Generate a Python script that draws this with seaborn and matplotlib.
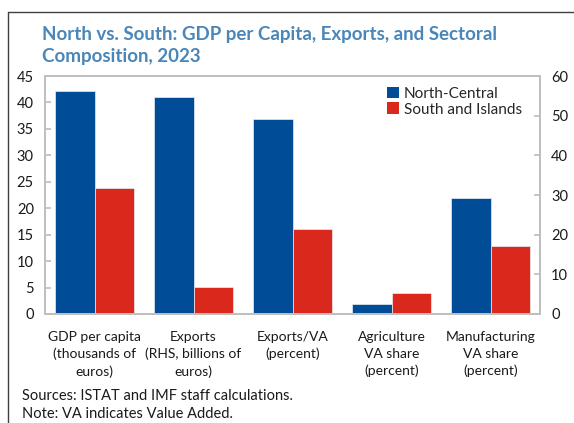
import matplotlib
matplotlib.use("Agg")
import matplotlib.pyplot as plt
from matplotlib.lines import Line2D
from matplotlib.patches import Patch
import seaborn as sns
import pandas as pd

sns.set_theme(style="white")
plt.rcParams["font.family"] = ["Lato", "DejaVu Sans"]

categories = [
    "GDP per capita\n(thousands of\neuros)",
    "Exports\n(RHS, billions of\neuros)",
    "Exports/VA\n(percent)",
    "Agriculture\nVA share\n(percent)",
    "Manufacturing\nVA share\n(percent)",
]
regions = ["North-Central", "South and Islands"]
north_central = [42.2, 54.7, 36.8, 1.9, 21.9]
south_islands = [23.8, 6.8, 16.0, 3.9, 12.9]
rhs_category = categories[1]

colors = {"North-Central": "#004C97", "South and Islands": "#DA291C"}
title_color = "#4A86B8"
spine_color = "#BFBFBF"

df = pd.DataFrame({
    "category": categories * 2,
    "region": [regions[0]] * len(categories) + [regions[1]] * len(categories),
    "value": north_central + south_islands,
})
lhs = df[df["category"] != rhs_category]
rhs = df[df["category"] == rhs_category]

fig = plt.figure(figsize=(5.74, 4.23), dpi=100)
ax = fig.add_axes([0.0784, 0.2577, 0.8626, 0.5626])
ax2 = ax.twinx()

bar_kw = dict(x="category", y="value", hue="region", order=categories,
              hue_order=regions, palette=colors, width=0.8, dodge=True,
              saturation=1, edgecolor="#E8EEF5", linewidth=0.5, legend=False)
sns.barplot(data=lhs, ax=ax, **bar_kw)
sns.barplot(data=rhs, ax=ax2, **bar_kw)

ax.set_xlim(-0.5, len(categories) - 0.5)
ax2.set_xlim(-0.5, len(categories) - 0.5)
ax.set_ylim(0, 45)
ax.set_yticks(range(0, 46, 5))
ax2.set_ylim(0, 60)
ax2.set_yticks(range(0, 61, 10))

for a in (ax, ax2):
    a.set_xlabel("")
    a.set_ylabel("")
    for s in a.spines.values():
        s.set_color(spine_color)
        s.set_linewidth(1.4)
    a.tick_params(axis="y", direction="in", length=4, color=spine_color,
                  labelsize=10.5, labelcolor="#1A1A1A", pad=8)
    a.grid(False)

ax.set_xticks(range(len(categories)))
ax.set_xticklabels(categories, fontsize=10, color="#1A1A1A", linespacing=1.5)
ax.tick_params(axis="x", which="major", length=0, pad=12)
ax.set_xticks([i + 0.5 for i in range(len(categories) - 1)], minor=True)
ax.tick_params(axis="x", which="minor", direction="in", length=5,
               color=spine_color, width=1.2)
ax2.tick_params(axis="x", which="both", length=0, labelbottom=False)

handles = [Patch(facecolor=colors[r], edgecolor="none", label=r) for r in regions]
ax2.legend(handles=handles, loc="upper right", frameon=False, fontsize=11,
           handlelength=0.8, handleheight=0.8, handletextpad=0.3,
           labelspacing=0.1, borderaxespad=0.3, bbox_to_anchor=(0.985, 1.0))

fig.text(0.073, 0.893,
         "North vs. South: GDP per Capita, Exports, and Sectoral\nComposition, 2023",
         fontsize=13.5, fontweight="bold", color=title_color, va="center",
         linespacing=1.35)

fig.text(0.038, 0.064, "Sources: ISTAT and IMF staff calculations.",
         fontsize=10.5, color="#1A1A1A", va="center")
fig.text(0.038, 0.021, "Note: VA indicates Value Added.",
         fontsize=10.5, color="#1A1A1A", va="center")

frame_kw = dict(color="#404040", linewidth=1.0, transform=fig.transFigure)
fig.add_artist(Line2D([0.014, 0.014], [0.0, 0.972], **frame_kw))
fig.add_artist(Line2D([0.014, 1.0], [0.972, 0.972], **frame_kw))

fig.savefig("out.png", dpi=100)
